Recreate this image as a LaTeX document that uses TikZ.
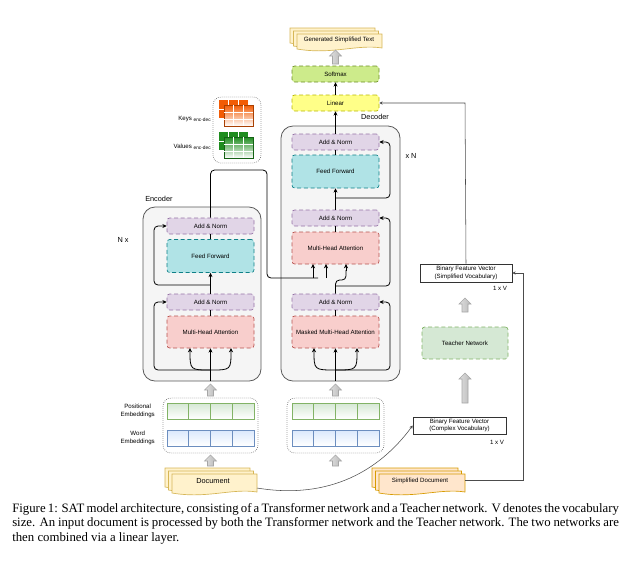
\documentclass[tikz,border=0pt]{standalone}
\usepackage{fontspec}
\setmainfont{Liberation Serif}
\setsansfont{Liberation Sans}
\usetikzlibrary{arrows.meta}
\definecolor{anF}{HTML}{E1D5E7}\definecolor{anD}{HTML}{9673A6}
\definecolor{ffF}{HTML}{B0E3E6}\definecolor{ffD}{HTML}{0E8088}
\definecolor{mhF}{HTML}{F8CECC}\definecolor{mhD}{HTML}{B85450}
\definecolor{liF}{HTML}{FFFF88}\definecolor{liD}{HTML}{B8B800}
\definecolor{smF}{HTML}{CDEB8B}\definecolor{smD}{HTML}{6B8E23}
\definecolor{tnF}{HTML}{D5E8D4}\definecolor{tnD}{HTML}{82B366}
\definecolor{dcF}{HTML}{FFF2CC}\definecolor{dcD}{HTML}{D6B656}
\definecolor{sdF}{HTML}{FFE6CC}\definecolor{sdD}{HTML}{D79B00}
\definecolor{peF}{HTML}{D5E8D4}\definecolor{peD}{HTML}{82B366}
\definecolor{weF}{HTML}{DAE8FC}\definecolor{weD}{HTML}{6C8EBF}
\definecolor{kO}{HTML}{F25C05}\definecolor{vG}{HTML}{1E8C1E}
\newcommand\garrow[3]{\shade[left color=gray!25,right color=gray!55,draw=gray!70,line width=0.4pt]
 (#1-3,#2) -- (#1-3,#3+6) -- (#1-6,#3+6) -- (#1,#3) -- (#1+6,#3+6) -- (#1+3,#3+6) -- (#1+3,#2) -- cycle;}
\newcommand\docpath[6]{\filldraw[fill=#5,draw=#6,line width=0.5pt] (#1,#2) -- (#3,#2) -- (#3,#4-1)
 .. controls (#3-25,#4-5) and (#1+35,#4+6) .. (#1,#4) -- cycle;}
\newcommand\docs[6]{\docpath{#1}{#2}{#3-7}{#4-6}{#5}{#6}\docpath{#1+3.5}{#2+3}{#3-3.5}{#4-3}{#5}{#6}\docpath{#1+7}{#2+6}{#3}{#4}{#5}{#6}}
\newcommand\kvgrid[3]{%
 \fill[#3] (#1,#2) rectangle (#1+29,#2+18);
 \draw[white,line width=0.4pt] (#1+9.7,#2) -- (#1+9.7,#2+18) (#1+19.4,#2) -- (#1+19.4,#2+18) (#1,#2+9) -- (#1+29,#2+9);
 \shade[top color=#3,bottom color=white,draw=#3!70!black,line width=0.3pt] (#1+5,#2+5) rectangle (#1+34,#2+26);
 \draw[white,line width=0.5pt] (#1+14.7,#2+5) -- (#1+14.7,#2+26) (#1+24.4,#2+5) -- (#1+24.4,#2+26) (#1+5,#2+12) -- (#1+34,#2+12) (#1+5,#2+19) -- (#1+34,#2+19);}
\newcommand\embrow[4]{\shade[top color=#3,bottom color=white,draw=#4,line width=0.5pt] (#1,#2) rectangle (#1+87,#2+16);
 \foreach \k in {1,2,3}{\draw[#4,line width=0.5pt] (#1+\k*21.75,#2) -- (#1+\k*21.75,#2+16);}}
\newcommand\subtxt[1]{\raisebox{-0.8pt}{\fontsize{3.6pt}{4pt}\selectfont #1}}
\begin{document}
\begin{tikzpicture}[x=0.75pt,y=-0.75pt,
 font=\sffamily\fontsize{4.6pt}{5.5pt}\selectfont,
 sz/.style 2 args={minimum width=#1*0.75pt,minimum height=#2*0.75pt,inner sep=0pt},
 blk/.style={draw,rounded corners=2pt,densely dashed,line width=0.5pt},
 an/.style={blk,fill=anF,draw=anD,sz={87}{16}},
 ff/.style={blk,fill=ffF,draw=ffD,sz={87}{33}},
 mh/.style={blk,fill=mhF,draw=mhD,sz={87}{32}},
 arr/.style={-{Stealth[length=3.2pt,width=3pt]},line width=0.6pt,rounded corners=3pt},
 ln/.style={line width=0.6pt,rounded corners=3pt},
 outer/.style={draw=gray!70!black,fill=gray!8,rounded corners=9pt,line width=0.6pt},
 dotbox/.style={draw=gray!80!black,densely dotted,rounded corners=6pt,line width=0.5pt},
 bfv/.style={draw=black!80,fill=white,line width=0.5pt,align=center,inner sep=0pt},
 lbl/.style={inner sep=0pt,align=center}]
\useasboundingbox (0,0) rectangle (627,569);
% outer boxes
\draw[outer] (143,207) rectangle (261,381);
\draw[outer] (281,126) rectangle (400,381);
\node[lbl,anchor=west,font=\sffamily\fontsize{5.5pt}{6pt}\selectfont] (enclbl) at (145,199) {Encoder};
\node[lbl,font=\sffamily\fontsize{5.5pt}{6pt}\selectfont] (nx) at (123,240) {N x};
\node[lbl,font=\sffamily\fontsize{5.5pt}{6pt}\selectfont] (declbl) at (375,117) {Decoder};
\node[lbl,font=\sffamily\fontsize{5.5pt}{6pt}\selectfont] (xn) at (411,156) {x N};
% encoder blocks
\node[an] (ean1) at (210.5,226) {Add \& Norm};
\node[ff] (eff) at (210.5,256) {Feed Forward};
\node[an] (ean2) at (210.5,302) {Add \& Norm};
\node[mh] (emh) at (210.5,332) {Multi-Head Attention};
% decoder blocks
\node[an] (dan1) at (335.5,142) {Add \& Norm};
\node[ff] (dff) at (335.5,171.5) {Feed Forward};
\node[an] (dan2) at (335.5,218) {Add \& Norm};
\node[mh] (dmh) at (335.5,248) {Multi-Head Attention};
\node[an] (dan3) at (335.5,302) {Add \& Norm};
\node[mh] (dmm) at (335.5,332) {Masked Multi-Head Attention};
\node[blk,fill=liF,draw=liD,sz={87}{16}] (lin) at (335.5,103) {Linear};
\node[blk,fill=smF,draw=smD,sz={87}{16}] (sm) at (335.5,74) {Softmax};
% generated text
\docs{290}{28}{382}{49}{dcF}{dcD}
\node[lbl] (gen) at (339,40) {Generated Simplified Text};
\garrow{335.5}{64}{50}
% keys/values
\draw[dotbox] (213,97) rectangle (261,163);
\kvgrid{219}{100}{kO}
\kvgrid{219}{132}{vG}
\node[lbl,anchor=east] (keys) at (211,119) {Keys \subtxt{enc-dec}};
\node[lbl,anchor=east] (vals) at (211,147) {Values \subtxt{enc-dec}};
% encoder connectors
\coordinate (ein) at (210.5,381);
\coordinate (ebr) at (210.5,370);
\draw[arr] (ein) -- (emh.south);
\draw[arr] (ebr) .. controls (190,370) .. (190,348);
\draw[arr] (ebr) .. controls (231,370) .. (231,348);
\draw[arr] (ebr) -| (154,302) -- (ean2.west);
\draw[ln] (emh.north) -- (ean2.south);
\draw[arr] (ean2.north) -- (eff.south);
\draw[arr] (210.5,285) -| (154,226) -- (ean1.west);
\draw[ln] (eff.north) -- (ean1.south);
\draw[ln] (ean1.north) -- (210.5,170) -- (267,170) -- (267,278) -- (318,278);
\draw[arr] (313,278) -- (313,264);
\draw[arr] (326,278) -- (326,264);
% decoder connectors
\coordinate (din) at (335.5,381);
\coordinate (dbr) at (335.5,370);
\draw[arr] (din) -- (dmm.south);
\draw[arr] (dbr) .. controls (314,370) .. (314,348);
\draw[arr] (dbr) .. controls (357,370) .. (357,348);
\draw[arr] (dbr) -| (390,302) -- (dan3.east);
\draw[ln] (dmm.north) -- (dan3.south);
\draw[ln] (dan3.north) -- (335.5,280) -- (346,280) -- (346,270);
\draw[arr] (346,271) -- (346,264);
\draw[arr] (335.5,286) -| (390,218) -- (dan2.east);
\draw[ln] (dmh.north) -- (dan2.south);
\draw[arr] (dan2.north) -- (dff.south);
\draw[arr] (335.5,198) -| (390,142) -- (dan1.east);
\draw[ln] (dff.north) -- (dan1.south);
\draw[arr] (dan1.north) -- (lin.south);
\draw[arr] (lin.north) -- (sm.south);
% embeddings
\garrow{210.5}{396}{384}
\garrow{335.5}{396}{384}
\draw[dotbox] (163,398) rectangle (258,453);
\draw[dotbox] (287,398) rectangle (384,453);
\embrow{167}{403}{peF}{peD}
\embrow{167}{430}{weF}{weD}
\embrow{292}{403}{peF}{peD}
\embrow{292}{430}{weF}{weD}
\node[lbl,anchor=east] (pe) at (155,411) {Positional\\Embeddings};
\node[lbl,anchor=east] (we) at (155,438) {Word\\Embeddings};
\garrow{210.5}{466}{455}
\garrow{335.5}{466}{455}
% documents
\docs{165}{468}{257}{493}{dcF}{dcD}
\node[lbl,font=\sffamily\fontsize{5.5pt}{6pt}\selectfont] (doc) at (213,481) {Document};
\docs{372}{468}{465}{493}{sdF}{sdD}
\node[lbl] (sdoc) at (420,481) {Simplified Document};
% teacher side
\node[bfv,sz={93}{17}] (bfvc) at (459.5,425.5) {Binary Feature Vector\\(Complex Vocabulary)};
\node[lbl] (v1) at (497,442) {1 x V};
\node[blk,fill=tnF,draw=tnD,sz={86}{32}] (tn) at (465,343) {Teacher Network};
\node[bfv,sz={92}{18}] (bfvs) at (466,273) {Binary Feature Vector\\(Simplified Vocabulary)};
\node[lbl] (v2) at (500,288) {1 x V};
\garrow{465}{403}{373}
\garrow{465}{312}{298}
\coordinate (sdr) at (465,480);
\draw[-{Stealth[length=2.5pt,width=2.5pt]},line width=0.4pt,draw=black!70] (sdr) -- (523,480) -- (523,273) -- (bfvs.east);
\draw[-{Stealth[length=2.5pt,width=2.5pt]},line width=0.4pt,draw=black!70] (bfvs.north) -- (465,103) -- (lin.east);
\coordinate (docr) at (257,488);
\draw[-{Stealth[length=2.5pt,width=2.5pt]},line width=0.4pt,draw=black!70] (docr) .. controls (330,500) and (380,470) .. (bfvc.west);
% caption
\node[anchor=north west,inner sep=0pt,text width=455pt,align=justify,
 font=\rmfamily\fontsize{9.6pt}{11pt}\selectfont] (cap) at (12,503)
 {Figure 1: SAT model architecture, consisting of a Transformer network and a Teacher network. V denotes the vocabulary size. An input document is processed by both the Transformer network and the Teacher network. The two networks are then combined via a linear layer.};
\end{tikzpicture}
\end{document}
